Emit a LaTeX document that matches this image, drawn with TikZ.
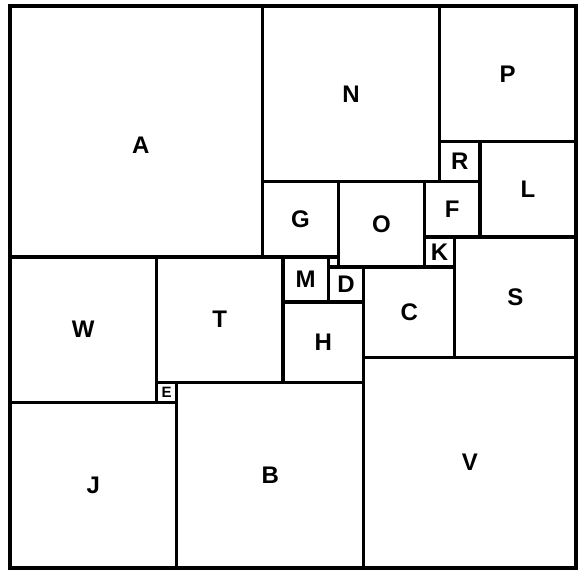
\documentclass[tikz,border=0pt]{standalone}
\usepackage{fontspec}
\setmainfont{Liberation Sans}

\begin{document}
\begin{tikzpicture}[x=5.053pt, y=-5.018pt,
    sq/.style={draw, line width=3.4pt},
    lbl/.style={font=\fontsize{24}{24}\bfseries\selectfont, inner sep=0pt}]
    \useasboundingbox (-1.979,-1.196) rectangle (112.80,112.39);
    % squares: left, top, side, name
    \foreach \x/\y/\s/\n in {50/0/35/N, 85/0/27/P, 85/27/8/R, 93/27/19/L,
        50/35/15/G, 65/35/17/O, 82/35/11/F, 82/46/6/K, 88/46/24/S,
        0/50/29/W, 29/50/25/T, 54/50/9/M, 63/52/7/D, 70/52/18/C, 54/59/16/H,
        0/79/33/J, 33/75/37/B, 70/70/42/V} {
        \draw[sq] (\x,\y) rectangle ++(\s,\s);
        \node[lbl] (\n) at (\x+\s/2,\y+\s/2) {\n};
    }
    \draw[sq] (0,0) rectangle ++(50,50);
    \node[lbl] (A) at (25.9,27.7) {A};
    \draw[sq] (29,75) rectangle ++(4,4);
    \node[lbl, font=\fontsize{15}{15}\bfseries\selectfont] (E) at (31,77) {E};
    \draw[sq] (63,50) rectangle ++(2,2);
    % outer frame
    \draw[line width=4pt] (0,0) rectangle (112,112);
\end{tikzpicture}
\end{document}
